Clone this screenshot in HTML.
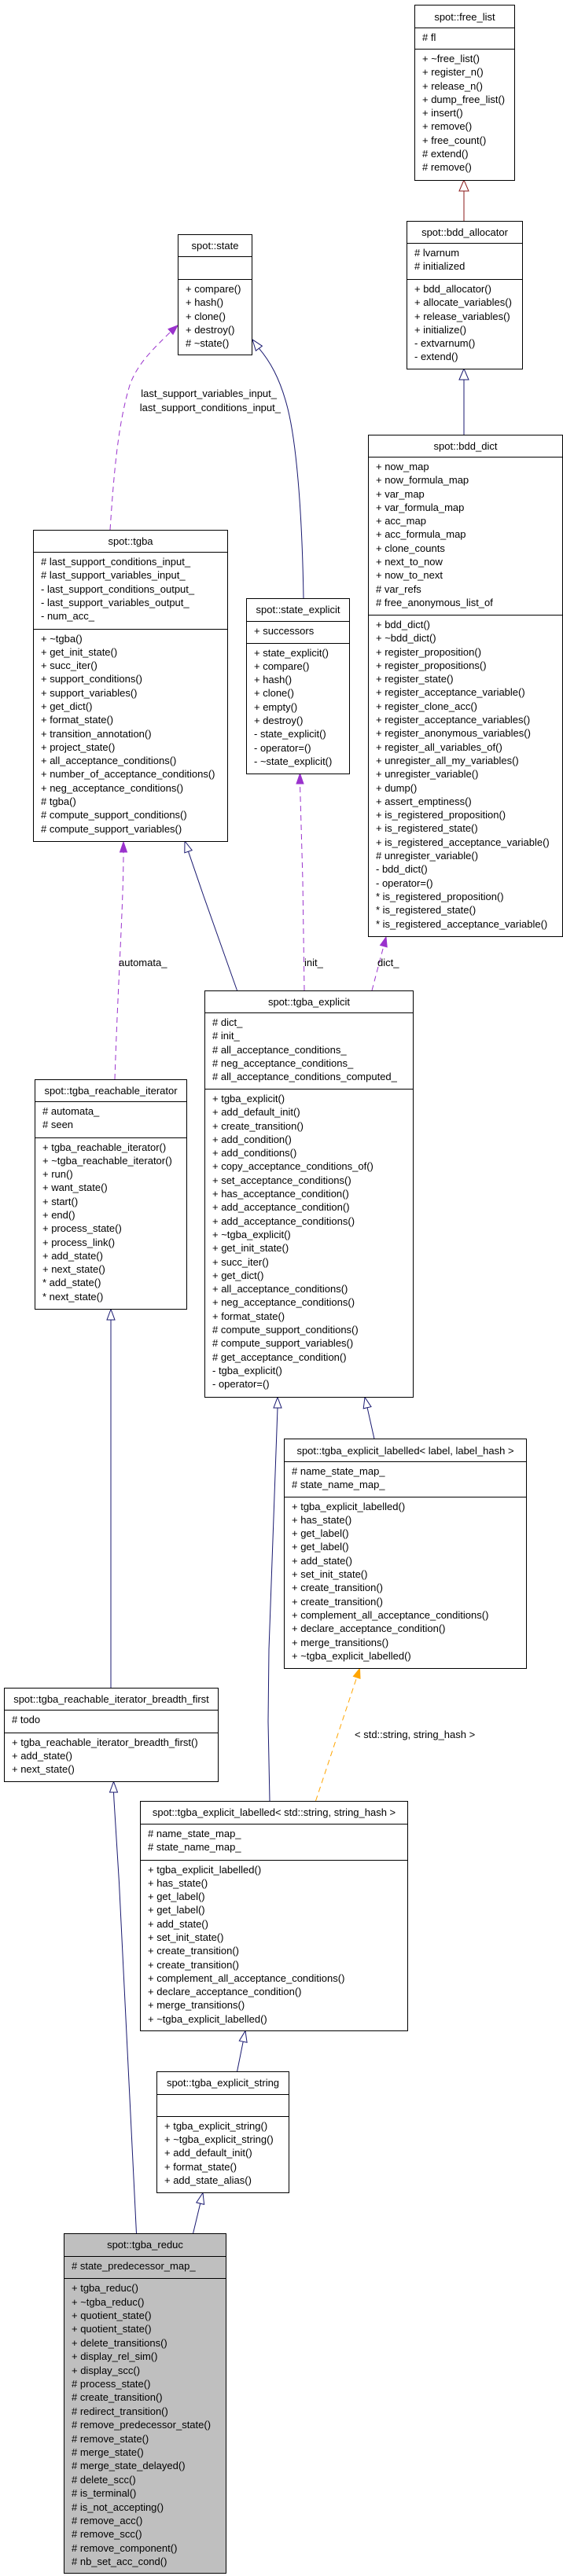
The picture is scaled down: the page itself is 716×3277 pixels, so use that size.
<!DOCTYPE html>
<html><head><meta charset="utf-8"><style>
html,body{margin:0;padding:0;background:#fff;}
body{width:716px;height:3277px;position:relative;overflow:hidden;font:13px "Liberation Sans",sans-serif;color:#000;}
.b{position:absolute;border:1px solid #000;box-sizing:border-box;background:#fff;}
.h{display:flex;align-items:center;justify-content:center;white-space:nowrap;}
.s{border-top:1px solid #000;padding:3px 0 0 9px;line-height:17.3px;white-space:nowrap;box-sizing:border-box;}
.g{background:#bfbfbf;}
svg{position:absolute;left:0;top:0;}
.lb{font:13px "Liberation Sans",sans-serif;fill:#000;}
</style></head><body>

<svg width="716" height="3277" viewBox="0 0 716 3277">
<g fill="none" stroke-width="1">
<!-- free_list <- bdd_allocator -->
<line x1="590" y1="281" x2="590" y2="243" stroke="#8b1a1a"/>
<polygon points="590,229 584,243 596,243" fill="#fff" stroke="#8b1a1a"/>
<!-- bdd_allocator <- bdd_dict -->
<line x1="590" y1="553" x2="590" y2="483" stroke="#191970"/>
<polygon points="590,469 584,483 596,483" fill="#fff" stroke="#191970"/>
<!-- state <- state_explicit -->
<path d="M386,761 C384,640 376,560 366,520 C356,480 342,458 329.4,443.2" stroke="#191970"/>
<polygon points="321,432 325.4,446.2 333.4,440.2" fill="#fff" stroke="#191970"/>
<!-- tgba -> state dashed -->
<path d="M140,674 C145,600 150,540 165,490 C175,462 195,444 217,422" stroke="#9a32cd" stroke-dasharray="7,5"/>
<polygon points="226,414 220,425.4 214,418.6" fill="#9a32cd" stroke="#9a32cd"/>
<!-- tgba <- tgba_explicit -->
<path d="M301.5,1260 L259,1140 L239.5,1083.2" stroke="#191970"/>
<polygon points="235,1070 234.8,1084.8 244.2,1081.6" fill="#fff" stroke="#191970"/>
<!-- tgba_explicit -> state_explicit init_ -->
<path d="M387,1260 L385,1120 L381.5,997" stroke="#9a32cd" stroke-dasharray="7,5"/>
<polygon points="381.5,984 377,997 386,997" fill="#9a32cd" stroke="#9a32cd"/>
<!-- tgba_explicit -> bdd_dict dict_ -->
<path d="M473,1260 L487.9,1203.6" stroke="#9a32cd" stroke-dasharray="7,5"/>
<polygon points="491,1192 492.2,1204.8 483.5,1202.5" fill="#9a32cd" stroke="#9a32cd"/>
<!-- reachable_iterator -> tgba automata_ -->
<path d="M146,1373 C150,1250 157,1150 157,1084" stroke="#9a32cd" stroke-dasharray="7,5"/>
<polygon points="157,1071 152.5,1084 161.5,1084" fill="#9a32cd" stroke="#9a32cd"/>
<!-- breadth_first -> reachable_iterator -->
<line x1="141" y1="2147" x2="141" y2="1679" stroke="#191970"/>
<polygon points="141,1665.5 136,1679 146,1679" fill="#fff" stroke="#191970"/>
<!-- labelled<label> -> tgba_explicit -->
<line x1="476" y1="1830.5" x2="467.1" y2="1790.7" stroke="#191970"/>
<polygon points="464,1777.5 462.2,1791.8 472,1789.6" fill="#fff" stroke="#191970"/>
<!-- labelled<string> -> tgba_explicit -->
<path d="M343,2291 L341,2190 L342,2098 L353,1791" stroke="#191970"/>
<polygon points="353,1777.5 348,1791 358,1791" fill="#fff" stroke="#191970"/>
<!-- orange template -->
<path d="M401.5,2291 L453.7,2133.9" stroke="#ffa500" stroke-dasharray="7,5"/>
<polygon points="457.5,2122.5 458,2135.3 449.4,2132.5" fill="#ffa500" stroke="#ffa500"/>
<!-- tgba_reduc -> breadth_first -->
<path d="M173.5,2841.5 L151.5,2395 L145,2290 L144.5,2280" stroke="#191970"/>
<polygon points="144.5,2266.5 139.5,2280 149.5,2280" fill="#fff" stroke="#191970"/>
<!-- tgba_reduc -> tgba_explicit_string -->
<line x1="245.5" y1="2841.5" x2="254.7" y2="2803.1" stroke="#191970"/>
<polygon points="258,2789.5 259.6,2804.3 249.8,2801.9" fill="#fff" stroke="#191970"/>
<!-- string -> labelled<string> -->
<line x1="301.5" y1="2635.5" x2="309.2" y2="2597.2" stroke="#191970"/>
<polygon points="312,2583.5 314.1,2598.2 304.3,2596.2" fill="#fff" stroke="#191970"/>
</g>
<text class="lb" x="352" y="505" text-anchor="end">last_support_variables_input_</text>
<text class="lb" x="357" y="523" text-anchor="end">last_support_conditions_input_</text>
<text class="lb" x="151" y="1229">automata_</text>
<text class="lb" x="387" y="1229">init_</text>
<text class="lb" x="480" y="1229">dict_</text>
<text class="lb" x="451" y="2211">&lt; std::string, string_hash &gt;</text>
</svg>

<!-- free_list -->
<div class="b" style="left:527px;top:6px;width:128px;height:224px;">
<div class="h" style="height:28px">spot::free_list</div>
<div class="s" style="height:27px"># fl</div>
<div class="s">+ ~free_list()<br>+ register_n()<br>+ release_n()<br>+ dump_free_list()<br>+ insert()<br>+ remove()<br>+ free_count()<br># extend()<br># remove()</div>
</div>

<!-- bdd_allocator -->
<div class="b" style="left:517px;top:281px;width:148px;height:189px;">
<div class="h" style="height:27px">spot::bdd_allocator</div>
<div class="s" style="height:46px"># lvarnum<br># initialized</div>
<div class="s">+ bdd_allocator()<br>+ allocate_variables()<br>+ release_variables()<br>+ initialize()<br>- extvarnum()<br>- extend()</div>
</div>

<!-- state -->
<div class="b" style="left:226px;top:298px;width:95px;height:154px;">
<div class="h" style="height:27px">spot::state</div>
<div class="s" style="height:29px"></div>
<div class="s">+ compare()<br>+ hash()<br>+ clone()<br>+ destroy()<br># ~state()</div>
</div>

<!-- bdd_dict -->
<div class="b" style="left:468px;top:553px;width:248px;height:639px;">
<div class="h" style="height:27px">spot::bdd_dict</div>
<div class="s" style="height:201px">+ now_map<br>+ now_formula_map<br>+ var_map<br>+ var_formula_map<br>+ acc_map<br>+ acc_formula_map<br>+ clone_counts<br>+ next_to_now<br>+ now_to_next<br># var_refs<br># free_anonymous_list_of</div>
<div class="s">+ bdd_dict()<br>+ ~bdd_dict()<br>+ register_proposition()<br>+ register_propositions()<br>+ register_state()<br>+ register_acceptance_variable()<br>+ register_clone_acc()<br>+ register_acceptance_variables()<br>+ register_anonymous_variables()<br>+ register_all_variables_of()<br>+ unregister_all_my_variables()<br>+ unregister_variable()<br>+ dump()<br>+ assert_emptiness()<br>+ is_registered_proposition()<br>+ is_registered_state()<br>+ is_registered_acceptance_variable()<br># unregister_variable()<br>- bdd_dict()<br>- operator=()<br>* is_registered_proposition()<br>* is_registered_state()<br>* is_registered_acceptance_variable()</div>
</div>

<!-- tgba -->
<div class="b" style="left:42px;top:674px;width:248px;height:397px;">
<div class="h" style="height:27px">spot::tgba</div>
<div class="s" style="height:97.5px"># last_support_conditions_input_<br># last_support_variables_input_<br>- last_support_conditions_output_<br>- last_support_variables_output_<br>- num_acc_</div>
<div class="s">+ ~tgba()<br>+ get_init_state()<br>+ succ_iter()<br>+ support_conditions()<br>+ support_variables()<br>+ get_dict()<br>+ format_state()<br>+ transition_annotation()<br>+ project_state()<br>+ all_acceptance_conditions()<br>+ number_of_acceptance_conditions()<br>+ neg_acceptance_conditions()<br># tgba()<br># compute_support_conditions()<br># compute_support_variables()</div>
</div>

<!-- state_explicit -->
<div class="b" style="left:313px;top:761px;width:132px;height:224px;">
<div class="h" style="height:27.5px">spot::state_explicit</div>
<div class="s" style="height:28px">+ successors</div>
<div class="s">+ state_explicit()<br>+ compare()<br>+ hash()<br>+ clone()<br>+ empty()<br>+ destroy()<br>- state_explicit()<br>- operator=()<br>- ~state_explicit()</div>
</div>

<!-- tgba_explicit -->
<div class="b" style="left:260px;top:1260px;width:266px;height:518px;">
<div class="h" style="height:27px">spot::tgba_explicit</div>
<div class="s" style="height:97px"># dict_<br># init_<br># all_acceptance_conditions_<br># neg_acceptance_conditions_<br># all_acceptance_conditions_computed_</div>
<div class="s">+ tgba_explicit()<br>+ add_default_init()<br>+ create_transition()<br>+ add_condition()<br>+ add_conditions()<br>+ copy_acceptance_conditions_of()<br>+ set_acceptance_conditions()<br>+ has_acceptance_condition()<br>+ add_acceptance_condition()<br>+ add_acceptance_conditions()<br>+ ~tgba_explicit()<br>+ get_init_state()<br>+ succ_iter()<br>+ get_dict()<br>+ all_acceptance_conditions()<br>+ neg_acceptance_conditions()<br>+ format_state()<br># compute_support_conditions()<br># compute_support_variables()<br># get_acceptance_condition()<br>- tgba_explicit()<br>- operator=()</div>
</div>

<!-- tgba_reachable_iterator -->
<div class="b" style="left:44px;top:1373px;width:194px;height:293px;">
<div class="h" style="height:27px">spot::tgba_reachable_iterator</div>
<div class="s" style="height:45.5px"># automata_<br># seen</div>
<div class="s">+ tgba_reachable_iterator()<br>+ ~tgba_reachable_iterator()<br>+ run()<br>+ want_state()<br>+ start()<br>+ end()<br>+ process_state()<br>+ process_link()<br>+ add_state()<br>+ next_state()<br>* add_state()<br>* next_state()</div>
</div>

<!-- labelled<label,label_hash> -->
<div class="b" style="left:361px;top:1830px;width:309px;height:293px;">
<div class="h" style="height:28px">spot::tgba_explicit_labelled&lt; label, label_hash &gt;</div>
<div class="s" style="height:44.6px"># name_state_map_<br># state_name_map_</div>
<div class="s">+ tgba_explicit_labelled()<br>+ has_state()<br>+ get_label()<br>+ get_label()<br>+ add_state()<br>+ set_init_state()<br>+ create_transition()<br>+ create_transition()<br>+ complement_all_acceptance_conditions()<br>+ declare_acceptance_condition()<br>+ merge_transitions()<br>+ ~tgba_explicit_labelled()</div>
</div>

<!-- breadth_first -->
<div class="b" style="left:5px;top:2147px;width:273px;height:120px;">
<div class="h" style="height:27px">spot::tgba_reachable_iterator_breadth_first</div>
<div class="s" style="height:28.6px"># todo</div>
<div class="s">+ tgba_reachable_iterator_breadth_first()<br>+ add_state()<br>+ next_state()</div>
</div>

<!-- labelled<std::string,string_hash> -->
<div class="b" style="left:178px;top:2291px;width:341px;height:293px;">
<div class="h" style="height:27.5px">spot::tgba_explicit_labelled&lt; std::string, string_hash &gt;</div>
<div class="s" style="height:46px"># name_state_map_<br># state_name_map_</div>
<div class="s">+ tgba_explicit_labelled()<br>+ has_state()<br>+ get_label()<br>+ get_label()<br>+ add_state()<br>+ set_init_state()<br>+ create_transition()<br>+ create_transition()<br>+ complement_all_acceptance_conditions()<br>+ declare_acceptance_condition()<br>+ merge_transitions()<br>+ ~tgba_explicit_labelled()</div>
</div>

<!-- tgba_explicit_string -->
<div class="b" style="left:199px;top:2635px;width:169px;height:155px;">
<div class="h" style="height:27.5px">spot::tgba_explicit_string</div>
<div class="s" style="height:28.3px"></div>
<div class="s">+ tgba_explicit_string()<br>+ ~tgba_explicit_string()<br>+ add_default_init()<br>+ format_state()<br>+ add_state_alias()</div>
</div>

<!-- tgba_reduc -->
<div class="b g" style="left:81px;top:2841px;width:207px;height:433px;">
<div class="h" style="height:27.5px">spot::tgba_reduc</div>
<div class="s" style="height:28.6px"># state_predecessor_map_</div>
<div class="s" style="line-height:17.4px">+ tgba_reduc()<br>+ ~tgba_reduc()<br>+ quotient_state()<br>+ quotient_state()<br>+ delete_transitions()<br>+ display_rel_sim()<br>+ display_scc()<br># process_state()<br># create_transition()<br># redirect_transition()<br># remove_predecessor_state()<br># remove_state()<br># merge_state()<br># merge_state_delayed()<br># delete_scc()<br># is_terminal()<br># is_not_accepting()<br># remove_acc()<br># remove_scc()<br># remove_component()<br># nb_set_acc_cond()</div>
</div>

</body></html>
